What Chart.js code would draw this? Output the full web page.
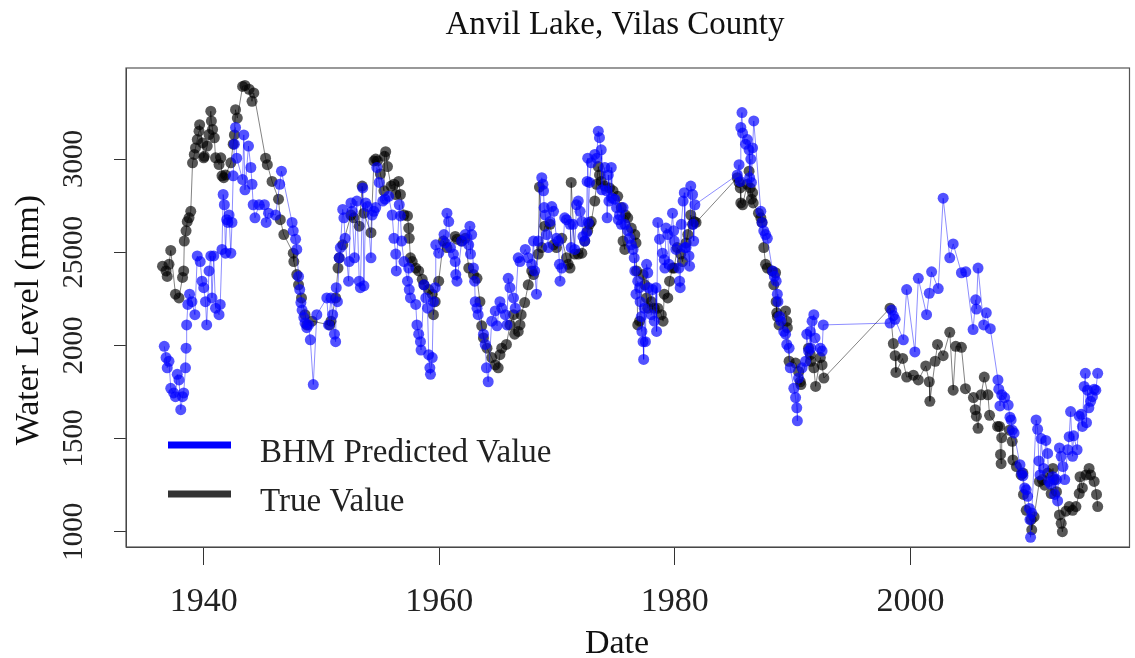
<!DOCTYPE html>
<html><head><meta charset="utf-8">
<script src="https://cdn.jsdelivr.net/npm/chart.js@4.4.1/dist/chart.umd.min.js"></script>
<style>html,body{margin:0;padding:0;background:#fff}canvas{display:block}</style>
</head><body>
<canvas id="c" width="1135" height="658"></canvas>
<script>
const chartTitle = 'Anvil Lake, Vilas County';
const xAxisTitle = 'Date';
const yAxisTitle = 'Water Level (mm)';
const xTicks = [1940, 1960, 1980, 2000];
const yTicks = [1000, 1500, 2000, 2500, 3000];
const yTickLabels = ['1000', '1500', '2000', '25000', '3000'];
const seriesNames = ['BHM Predicted Value', 'True Value'];

// [decimal year, water level (mm)]
const bhmPredicted = [
[1936.65,1995],[1936.8,1935],[1936.9,1880],[1937.05,1915],[1937.2,1770],[1937.45,1745],[1937.6,1725],[1937.75,1845],[1937.9,1815],[1938.05,1655],[1938.2,1725],[1938.3,1745],[1938.45,1880],[1938.5,1985],[1938.55,2110],[1938.65,2220],[1938.8,2275],[1939.0,2235],[1939.25,2165],[1939.45,2480],[1939.7,2450],[1939.85,2345],[1940.0,2310],[1940.15,2235],[1940.25,2110],[1940.45,2400],[1940.6,2480],[1940.7,2255],[1940.85,2480],[1941.0,2200],[1941.3,2165],[1941.4,2220],[1941.55,2515],[1941.65,2810],[1941.75,2755],[1941.85,2495],[1941.95,2675],[1942.05,2660],[1942.15,2700],[1942.3,2495],[1942.4,2660],[1942.5,2910],[1942.6,3080],[1942.7,3170],[1942.8,3005],[1943.3,2890],[1943.4,3130],[1943.5,2835],[1943.8,3070],[1944.0,2955],[1944.1,2865],[1944.2,2755],[1944.35,2685],[1944.7,2755],[1945.15,2755],[1945.3,2660],[1945.5,2710],[1946.1,2700],[1946.45,2865],[1946.6,2935],[1947.5,2660],[1947.6,2615],[1947.8,2570],[1947.9,2515],[1948.05,2370],[1948.15,2300],[1948.25,2230],[1948.35,2190],[1948.5,2150],[1948.6,2120],[1948.75,2095],[1948.9,2110],[1949.05,2030],[1949.3,1790],[1949.6,2165],[1950.45,2255],[1950.6,2110],[1950.8,2255],[1950.95,2165],[1951.1,2060],[1951.2,2020],[1951.25,2310],[1951.35,2235],[1951.5,2470],[1951.6,2525],[1951.8,2730],[1951.9,2685],[1952.0,2575],[1952.3,2345],[1952.35,2450],[1952.5,2765],[1952.6,2720],[1952.8,2470],[1953.0,2775],[1953.2,2345],[1953.3,2310],[1953.5,2845],[1953.6,2320],[1953.75,2765],[1953.9,2745],[1954.2,2470],[1954.3,2700],[1954.45,2720],[1954.6,2740],[1954.7,2955],[1954.9,2875],[1955.2,2775],[1955.4,2785],[1955.7,2800],[1956.0,2700],[1956.15,2575],[1956.3,2490],[1956.35,2400],[1956.6,2755],[1956.7,2695],[1956.8,2560],[1957.0,2450],[1957.3,2345],[1957.4,2415],[1957.45,2300],[1957.55,2255],[1958.0,2220],[1958.1,2110],[1958.25,2060],[1958.4,2020],[1958.45,1975],[1958.7,2325],[1958.85,2255],[1959.0,2200],[1959.1,1950],[1959.2,1880],[1959.25,1845],[1959.4,1935],[1959.5,2235],[1959.65,2310],[1959.7,2540],[1959.95,2495],[1960.4,2595],[1960.5,2550],[1960.65,2710],[1960.8,2665],[1960.95,2525],[1961.2,2490],[1961.35,2450],[1961.4,2380],[1961.5,2345],[1961.9,2560],[1962.2,2595],[1962.5,2540],[1962.6,2640],[1962.65,2490],[1962.75,2595],[1962.9,2415],[1963.0,2345],[1963.05,2235],[1963.2,2200],[1963.3,2165],[1963.75,2060],[1963.9,2005],[1964.0,1880],[1964.15,1805],[1964.45,2130],[1964.75,2185],[1964.9,2105],[1965.15,2235],[1965.3,2200],[1965.6,2165],[1965.75,2110],[1965.85,2360],[1966.0,2310],[1966.3,2255],[1966.45,2200],[1966.7,2470],[1966.85,2450],[1967.3,2515],[1967.55,2470],[1967.85,2435],[1968.0,2560],[1968.1,2400],[1968.25,2275],[1968.4,2560],[1968.7,2900],[1968.8,2865],[1968.85,2830],[1968.9,2740],[1969.0,2700],[1969.1,2595],[1969.25,2525],[1969.4,2665],[1969.55,2745],[1969.7,2720],[1969.95,2575],[1970.1,2560],[1970.2,2435],[1970.25,2345],[1970.4,2415],[1970.65,2685],[1970.8,2675],[1971.1,2650],[1971.2,2525],[1971.35,2650],[1971.5,2515],[1971.65,2755],[1971.8,2775],[1971.95,2720],[1972.1,2665],[1972.2,2585],[1972.35,2560],[1972.5,2605],[1972.55,2880],[1972.6,3005],[1972.65,2660],[1972.75,2875],[1972.9,2980],[1973.2,3025],[1973.35,3005],[1973.5,3150],[1973.6,3115],[1973.75,3050],[1973.8,2835],[1974.05,2955],[1974.2,2830],[1974.25,2685],[1974.35,2915],[1974.4,2775],[1974.6,2955],[1974.65,2790],[1974.9,2785],[1975.05,2740],[1975.2,2675],[1975.3,2700],[1975.45,2650],[1975.6,2740],[1975.75,2650],[1976.0,2615],[1976.15,2575],[1976.3,2540],[1976.45,2515],[1976.55,2470],[1976.6,2400],[1976.7,2275],[1976.85,2345],[1977.0,2310],[1977.05,2235],[1977.15,2155],[1977.2,2075],[1977.3,2020],[1977.35,1925],[1977.4,2200],[1977.5,2020],[1977.6,2435],[1977.7,2390],[1977.75,2310],[1978.0,2165],[1978.1,2300],[1978.25,2130],[1978.4,2310],[1978.45,2075],[1978.55,2660],[1978.7,2570],[1978.95,2495],[1979.1,2460],[1979.15,2415],[1979.25,2630],[1979.4,2595],[1979.5,2435],[1979.8,2710],[1979.9,2615],[1979.95,2560],[1980.1,2515],[1980.35,2415],[1980.4,2345],[1980.45,2310],[1980.55,2650],[1980.7,2775],[1980.8,2820],[1980.85,2525],[1980.95,2525],[1981.2,2480],[1981.25,2425],[1981.35,2855],[1981.5,2810],[1981.55,2650],[1981.6,2560],[1981.7,2755],
[1985.3,2915],[1985.45,2970],[1985.55,2880],[1985.6,3170],[1985.7,3250],[1985.75,3140],[1986.0,3080],[1986.15,3105],[1986.3,3050],[1986.35,2900],[1986.45,3000],[1986.5,2875],[1986.6,3060],[1986.7,3205],[1987.3,2720],[1987.4,2660],[1987.55,2615],[1987.7,2595],[1987.85,2575],[1988.3,2400],[1988.45,2370],[1988.6,2345],[1988.7,2275],[1988.75,2235],[1988.9,2155],[1989.0,2130],[1989.25,2075],[1989.4,2060],[1989.5,2005],[1989.7,1985],[1989.8,1880],[1990.1,1770],[1990.25,1720],[1990.35,1665],[1990.4,1595],[1990.5,1825],[1990.8,1880],[1991.1,1915],[1991.2,2060],[1991.35,1970],[1991.5,2075],[1991.55,1985],[1991.65,2130],[1991.8,2165],[1991.9,2040],[1992.35,1985],[1992.5,1970],[1992.6,2110],
[1998.27,2120],[1998.41,2190],[1998.55,2160],[1998.7,2140],[1999.4,2030],[1999.68,2300],[2000.38,1965],[2000.67,2360],[2001.37,2165],[2001.6,2280],[2001.8,2395],[2002.36,2305],[2002.78,2790],[2003.34,2470],[2003.63,2545],[2004.33,2390],[2004.7,2395],[2005.32,2085],[2005.54,2245],[2005.6,2195],[2005.74,2415],[2006.22,2110],[2006.44,2175],[2006.78,2090],[2007.43,1815],[2007.5,1765],[2007.6,1675],[2007.75,1735],[2008.0,1720],[2008.3,1680],[2008.45,1615],[2008.55,1600],[2008.65,1545],[2008.8,1530],[2009.3,1360],[2009.45,1315],[2009.55,1300],[2009.7,1235],[2009.83,1225],[2009.95,1190],[2010.1,1125],[2010.15,1065],[2010.2,970],[2010.3,1100],[2010.67,1600],[2010.8,1550],[2010.9,1380],[2011.0,1305],[2011.1,1500],[2011.3,1340],[2011.5,1490],[2011.65,1420],[2011.75,1270],[2011.9,1255],[2012.1,1295],[2012.25,1200],[2012.4,1280],[2012.5,1165],[2012.65,1450],[2012.8,1405],[2012.95,1350],[2013.1,1280],[2013.36,1440],[2013.48,1510],[2013.6,1645],[2013.77,1405],[2013.85,1515],[2014.15,1440],[2014.33,1620],[2014.5,1630],[2014.6,1565],[2014.75,1780],[2014.85,1850],[2014.95,1585],[2015.03,1760],[2015.15,1665],[2015.3,1700],[2015.45,1725],[2015.6,1765],[2015.74,1760],[2015.9,1850]
];

const trueValues = [
[1936.5,2425],[1936.8,2400],[1936.9,2370],[1937.05,2435],[1937.2,2510],[1937.6,2275],[1937.9,2255],[1938.2,2365],[1938.3,2400],[1938.35,2560],[1938.5,2615],[1938.6,2665],[1938.75,2685],[1938.9,2720],[1939.05,2980],[1939.2,3025],[1939.3,3060],[1939.45,3105],[1939.6,3150],[1939.65,3185],[1939.9,3087],[1940.0,3007],[1940.05,3015],[1940.3,3070],[1940.45,3132],[1940.6,3257],[1940.65,3204],[1940.75,3159],[1940.9,3114],[1941.0,3007],[1941.3,2971],[1941.45,3007],[1941.55,2910],[1941.7,2900],[1941.85,2915],[1942.3,2980],[1942.5,3080],[1942.6,3130],[1942.7,3265],[1942.85,3220],[1943.3,3390],[1943.5,3395],[1943.85,3375],[1944.1,3310],[1944.25,3355],[1945.25,3005],[1945.4,2970],[1945.8,2880],[1946.35,2785],[1946.5,2675],[1946.8,2595],[1947.6,2495],[1947.65,2450],[1947.9,2380],[1948.05,2325],[1948.3,2255],[1948.6,2165],[1948.75,2110],[1949.2,2130],[1950.7,2110],[1950.8,2130],[1951.2,2255],[1951.4,2415],[1951.5,2470],[1951.8,2540],[1952.5,2700],[1952.75,2685],[1953.2,2640],[1953.45,2855],[1953.6,2710],[1954.2,2605],[1954.45,2990],[1954.6,3000],[1954.75,2990],[1955.0,2920],[1955.3,2830],[1955.35,3015],[1955.45,3040],[1955.6,2960],[1955.9,2855],[1956.15,2865],[1956.3,2810],[1956.55,2880],[1956.7,2810],[1957.0,2700],[1957.3,2695],[1957.4,2630],[1957.45,2575],[1957.55,2470],[1957.7,2450],[1958.0,2415],[1958.25,2400],[1958.55,2355],[1958.7,2325],[1959.1,2300],[1959.4,2275],[1959.5,2165],[1959.65,2235],[1959.95,2345],[1960.35,2560],[1960.65,2525],[1961.35,2585],[1961.5,2570],[1961.9,2560],[1962.2,2575],[1962.5,2415],[1962.9,2380],[1963.2,2360],[1963.45,2235],[1963.6,2105],[1963.75,2040],[1964.05,1985],[1964.45,1935],[1964.75,1895],[1965.0,1880],[1965.15,1950],[1965.3,1985],[1965.7,2005],[1966.0,2110],[1966.3,2165],[1966.4,2060],[1966.7,2075],[1966.85,2110],[1966.95,2165],[1967.25,2230],[1967.55,2325],[1967.85,2400],[1968.0,2380],[1968.4,2490],[1968.5,2850],[1968.7,2525],[1968.95,2640],[1969.4,2650],[1969.7,2540],[1969.95,2525],[1970.4,2575],[1970.8,2470],[1970.95,2435],[1971.1,2415],[1971.2,2875],[1971.5,2490],[1971.8,2490],[1972.1,2495],[1972.35,2560],[1972.6,2615],[1972.75,2650],[1972.9,2665],[1973.2,2775],[1973.35,2865],[1973.5,2960],[1973.6,2915],[1973.75,2880],[1974.05,2855],[1974.45,2845],[1974.75,2830],[1975.15,2800],[1975.45,2740],[1975.6,2560],[1975.75,2515],[1975.8,2700],[1976.0,2685],[1976.3,2630],[1976.6,2595],[1976.7,2550],[1976.75,2400],[1976.85,2110],[1977.0,2130],[1977.3,2380],[1977.45,2325],[1977.6,2255],[1977.7,2200],[1978.0,2235],[1978.25,2200],[1978.55,2200],[1978.85,2165],[1979.0,2130],[1979.1,2275],[1979.4,2255],[1979.55,2345],[1979.8,2415],[1979.95,2415],[1980.2,2525],[1980.5,2490],[1980.65,2450],[1980.95,2550],[1981.1,2595],[1981.35,2700],[1981.5,2650],[1981.65,2665],[1981.8,2660],
[1985.3,2900],[1985.45,2875],[1985.55,2845],[1985.6,2765],[1985.75,2755],[1986.15,2865],[1986.3,2935],[1986.4,2845],[1986.5,2785],[1986.6,2820],[1986.65,2765],[1987.1,2710],[1987.3,2685],[1987.4,2660],[1987.55,2525],[1987.7,2435],[1987.85,2415],[1988.25,2400],[1988.4,2325],[1988.55,2390],[1988.6,2235],[1988.65,2175],[1988.7,2155],[1988.85,2110],[1989.4,2185],[1989.5,2130],[1989.55,2095],[1989.7,1915],[1990.25,1905],[1990.5,1860],[1990.65,1805],[1990.7,1790],[1991.35,1985],[1991.5,1950],[1991.55,1915],[1991.8,1880],[1991.95,1780],[1992.35,1935],[1992.5,1895],[1992.65,1825],
[1998.27,2200],[1998.55,2010],[1998.7,1945],[1998.77,1855],[1999.34,1930],[1999.68,1830],[2000.25,1840],[2000.67,1815],[2001.3,1890],[2001.6,1805],[2001.65,1700],[2002.1,1915],[2002.3,2005],[2002.78,1945],[2003.34,2070],[2003.63,1760],[2003.85,1995],[2004.33,1990],[2004.67,1768],[2005.35,1720],[2005.5,1655],[2005.6,1620],[2005.74,1555],[2006.0,1735],[2006.27,1830],[2006.58,1735],[2006.72,1625],[2007.4,1565],[2007.57,1565],[2007.65,1415],[2007.7,1365],[2007.75,1505],[2008.4,1545],[2008.64,1485],[2008.7,1385],[2009.0,1350],[2009.4,1305],[2009.55,1315],[2009.6,1200],[2009.83,1115],[2010.25,1065],[2010.3,1010],[2010.5,1080],[2010.95,1270],[2011.2,1280],[2011.4,1250],[2011.65,1315],[2011.95,1205],[2012.1,1340],[2012.2,1280],[2012.4,1215],[2012.65,1090],[2012.8,1045],[2012.9,1000],[2013.2,1110],[2013.48,1135],[2013.77,1115],[2014.05,1135],[2014.33,1205],[2014.4,1295],[2014.6,1235],[2014.9,1305],[2015.17,1340],[2015.3,1305],[2015.6,1270],[2015.8,1200],[2015.9,1135]
];

const FONT = "'Liberation Serif','Times New Roman',serif";
const legendColors = ['#0000ff', '#333333'];

const decor = {
  id: 'decor',
  afterDraw(chart) {
    const {ctx, chartArea: a} = chart;
    ctx.save();
    ctx.strokeStyle = '#555';
    ctx.lineWidth = 1.2;
    ctx.strokeRect(a.left, a.top, a.right - a.left, a.bottom - a.top);
    ctx.fillStyle = '#111';
    ctx.font = '33px ' + FONT;
    ctx.textAlign = 'center';
    ctx.textBaseline = 'alphabetic';
    ctx.fillText(chartTitle, 615, 34);
    ctx.font = '34px ' + FONT;
    ctx.fillText(xAxisTitle, 617, 653);
    ctx.save();
    ctx.translate(38, 320);
    ctx.rotate(-Math.PI / 2);
    ctx.fillText(yAxisTitle, 0, 0);
    ctx.restore();
    chart.data.datasets.forEach((ds, i) => {
      const y = 445 + i * 49;
      ctx.fillStyle = legendColors[i];
      ctx.fillRect(168, y - 3.5, 63, 7);
      ctx.fillStyle = '#222';
      ctx.textAlign = 'left';
      ctx.font = '33px ' + FONT;
      ctx.fillText(ds.label, 260, y + 17);
    });
    ctx.restore();
  }
};

const toPts = arr => arr.map(([x, y]) => ({x, y}));

new Chart(document.getElementById('c'), {
  type: 'scatter',
  data: {
    datasets: [
      {
        label: seriesNames[0], data: toPts(bhmPredicted), showLine: true,
        borderColor: 'rgba(0,0,255,0.5)', borderWidth: 0.9,
        pointRadius: 5.5, pointBorderWidth: 0, pointBackgroundColor: 'rgba(0,0,255,0.68)'
      },
      {
        label: seriesNames[1], data: toPts(trueValues), showLine: true,
        borderColor: 'rgba(0,0,0,0.55)', borderWidth: 0.9,
        pointRadius: 5.5, pointBorderWidth: 0, pointBackgroundColor: 'rgba(0,0,0,0.66)'
      }
    ]
  },
  options: {
    responsive: false, animation: false, devicePixelRatio: 1,
    layout: {padding: {left: 0, right: 1, top: 68, bottom: 0}},
    plugins: {legend: {display: false}, title: {display: false}, tooltip: {enabled: false}},
    scales: {
      x: {
        type: 'linear', min: 1933.4, max: 2018.6,
        afterBuildTicks: s => { s.ticks = xTicks.map(v => ({value: v})); },
        afterFit: s => { s.height = 111; },
        grid: {drawOnChartArea: false, drawTicks: true, tickLength: 18, color: '#333'},
        border: {display: true, color: '#333'},
        ticks: {font: {family: FONT, size: 34}, color: '#222', padding: 17, maxRotation: 0, autoSkip: false,
          callback: v => String(v)}
      },
      y: {
        type: 'linear', min: 918, max: 3489,
        afterBuildTicks: s => { s.ticks = yTicks.map(v => ({value: v})); },
        afterFit: s => { s.width = 126; },
        grid: {drawOnChartArea: false, drawTicks: true, tickLength: 12, color: '#333'},
        border: {display: true, color: '#333'},
        ticks: {font: {family: FONT, size: 29}, color: '#222', padding: 3, minRotation: 90, maxRotation: 90,
          crossAlign: 'center', autoSkip: false,
          callback: v => yTickLabels[yTicks.indexOf(v)]}
      }
    }
  },
  plugins: [decor]
});
</script>
</body></html>
